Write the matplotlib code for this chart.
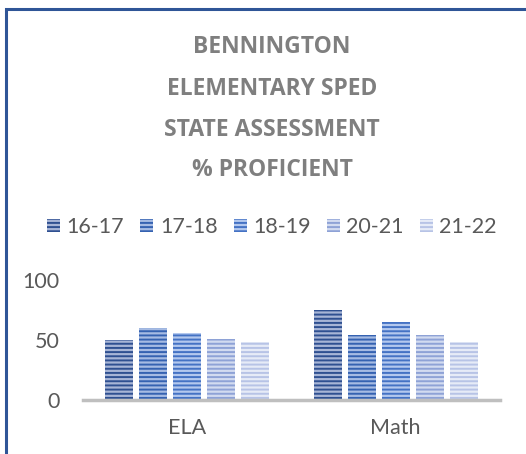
import matplotlib
matplotlib.use("Agg")
import matplotlib.pyplot as plt
from matplotlib.patches import Rectangle
import numpy as np

# chart data
subjects = ['ELA', 'Math']
years = ['16-17', '17-18', '18-19', '20-21', '21-22']
scores = {
    '16-17': [50, 75],
    '17-18': [60, 54],
    '18-19': [56, 65],
    '20-21': [51, 54],
    '21-22': [48, 48],
}
title_lines = ['BENNINGTON', 'ELEMENTARY SPED', 'STATE ASSESSMENT', '% PROFICIENT']

# stripe colour (dark) and fill colour (light) per year
stripe = ['#2F5091', '#3562B1', '#4472C4', '#8EA2D6', '#B7C3E6']
fill = ['#A7B5D6', '#A6BBE3', '#B3C8EE', '#D2DBF0', '#E6EBF7']

plt.rcParams['font.family'] = ['Lato', 'DejaVu Sans']
plt.rcParams['hatch.linewidth'] = 1.4

fig = plt.figure(figsize=(5.26, 4.54), dpi=100)
fig.patch.set_facecolor('white')

# blue frame (only left/top visible in the crop)
fig.add_artist(Rectangle((6 / 526, -0.1), 1.2, (454 - 9) / 454 + 0.1,
                         transform=fig.transFigure, fill=False,
                         edgecolor='#2F5597', linewidth=2.2))

ax = fig.add_axes([83 / 526, 1 - 400 / 454, 417 / 526, 120 / 454])

x = np.arange(len(subjects))
step = 0.163
width = 0.134
for i, yr in enumerate(years):
    ax.bar(x + (i - 2) * step, scores[yr], width, color=fill[i],
           edgecolor=stripe[i], linewidth=0, hatch='----', label=yr)

ax.set_xlim(-0.5, 1.5)
ax.set_ylim(0, 100)
ax.set_yticks([0, 50, 100])
ax.set_xticks(x)
ax.set_xticklabels(subjects)
ax.tick_params(axis='both', length=0, labelsize=15.5, colors='#595959')
ax.tick_params(axis='x', pad=13)
ax.tick_params(axis='y', pad=17)
for s in ['top', 'right', 'left']:
    ax.spines[s].set_visible(False)
ax.spines['bottom'].set_color('#BFBFBF')
ax.spines['bottom'].set_linewidth(2.5)
ax.set_facecolor('none')

handles, labels = ax.get_legend_handles_labels()
fig.legend(handles, labels, loc='center', bbox_to_anchor=(272 / 526, 1 - 227 / 454),
           ncol=5, frameon=False, fontsize=15.5, labelcolor='#595959',
           handlelength=0.6, handleheight=0.6, handletextpad=0.3,
           columnspacing=0.75)

# wider face for the letter-spaced title
title_y = [47, 89, 130, 170]
for line, ty in zip(title_lines, title_y):
    fig.text(272 / 526, 1 - ty / 454, line, ha='center', va='center',
             fontsize=16.5, fontweight='bold', color='#7F7F7F',
             family=['Open Sans', 'DejaVu Sans'])

fig.savefig('out.png', dpi=100)
